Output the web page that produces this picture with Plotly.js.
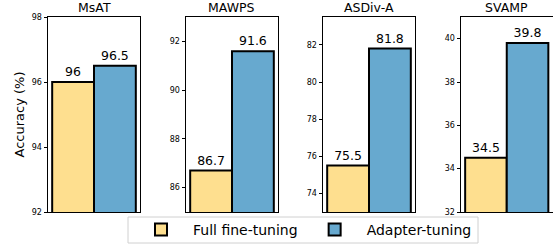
<!DOCTYPE html>
<html>
<head>
<meta charset="utf-8">
<script src="https://cdn.plot.ly/plotly-3.0.1.min.js"></script>
<style>html,body{margin:0;padding:0;background:#fff;}#chart{width:553px;height:244px;}</style>
</head>
<body>
<div id="chart"></div>
<script>
const datasets = ["MsAT", "MAWPS", "ASDiv-A", "SVAMP"];
const fullFineTuning = [96, 86.7, 75.5, 34.5];
const adapterTuning = [96.5, 91.6, 81.8, 39.8];
const seriesNames = ["Full fine-tuning", "Adapter-tuning"];
const yRanges = [[92, 98], [85, 93], [73, 83.5], [32, 41]];
const yTicks = [[92, 94, 96, 98], [86, 88, 90, 92], [74, 76, 78, 80, 82], [32, 34, 36, 38, 40]];

const colors = ["#fedf8f", "#67a9cf"];
const font = "DejaVu Sans, sans-serif";
const W = 553, H = 244;
const xDomains = [[48, 140], [186, 278], [323, 415], [461, 552.5]].map(d => [d[0] / W, d[1] / W]);
const yDomain = [1 - 212 / H, 1 - 17 / H];

const traces = [];
const layout = {
  width: W, height: H,
  margin: {l: 0, r: 0, t: 0, b: 0, autoexpand: false},
  paper_bgcolor: "#fff", plot_bgcolor: "#fff",
  font: {family: font, color: "#000"},
  barmode: "group", bargap: 0, bargroupgap: 0,
  showlegend: true,
  legend: {
    orientation: "h", x: 303 / W, xanchor: "center", y: 1 - 230 / H, yanchor: "middle",
    borderwidth: 0, bgcolor: "rgba(0,0,0,0)",
    font: {family: font, size: 14, color: "#000"},
    itemwidth: 54, tracegroupgap: 0
  },
  shapes: [{
    type: "rect", xref: "paper", yref: "paper",
    x0: 128 / W, x1: 478 / W, y0: 1 - 243 / H, y1: 1 - 217 / H,
    line: {color: "#d0d0d0", width: 1}, fillcolor: "rgba(255,255,255,0.8)", layer: "above"
  }],
  annotations: []
};

datasets.forEach((name, i) => {
  const n = i === 0 ? "" : String(i + 1);
  const vals = [fullFineTuning[i], adapterTuning[i]];
  vals.forEach((v, j) => {
    traces.push({
      type: "bar",
      x: [j], y: [v],
      width: 1,
      name: seriesNames[j],
      legendgroup: seriesNames[j],
      showlegend: i === 0,
      marker: {color: colors[j], line: {color: "#000", width: 2}},
      text: [String(v)], textposition: "outside",
      textfont: {family: font, size: 12.5, color: "#000"},
      cliponaxis: false,
      xaxis: "x" + n, yaxis: "y" + n,
      hoverinfo: "skip"
    });
  });
  layout["xaxis" + n] = {
    domain: xDomains[i], anchor: "y" + n,
    range: [-0.6, 1.6], showticklabels: false, ticks: "",
    showgrid: false, zeroline: false,
    showline: true, linecolor: "#000", linewidth: 1, mirror: true, fixedrange: true
  };
  layout["yaxis" + n] = {
    domain: yDomain, anchor: "x" + n,
    range: yRanges[i], tickvals: yTicks[i], ticktext: yTicks[i].map(String),
    ticks: "outside", ticklen: 3.5, tickwidth: 1, tickcolor: "#000",
    tickfont: {family: font, size: 8, color: "#000"},
    showgrid: false, zeroline: false,
    showline: true, linecolor: "#000", linewidth: 1, mirror: true, fixedrange: true
  };
  if (i === 0) {
    layout.yaxis.title = {text: "Accuracy (%)", font: {family: font, size: 13, color: "#000"}, standoff: 4};
  }
  layout.annotations.push({
    text: name, xref: "paper", yref: "paper",
    x: (xDomains[i][0] + xDomains[i][1]) / 2, y: yDomain[1],
    xanchor: "center", yanchor: "bottom", yshift: 0,
    showarrow: false, font: {family: font, size: 12.5, color: "#000", weight: "normal"}
  });
});

Plotly.newPlot("chart", traces, layout, {displayModeBar: false, staticPlot: true});
</script>
</body>
</html>
